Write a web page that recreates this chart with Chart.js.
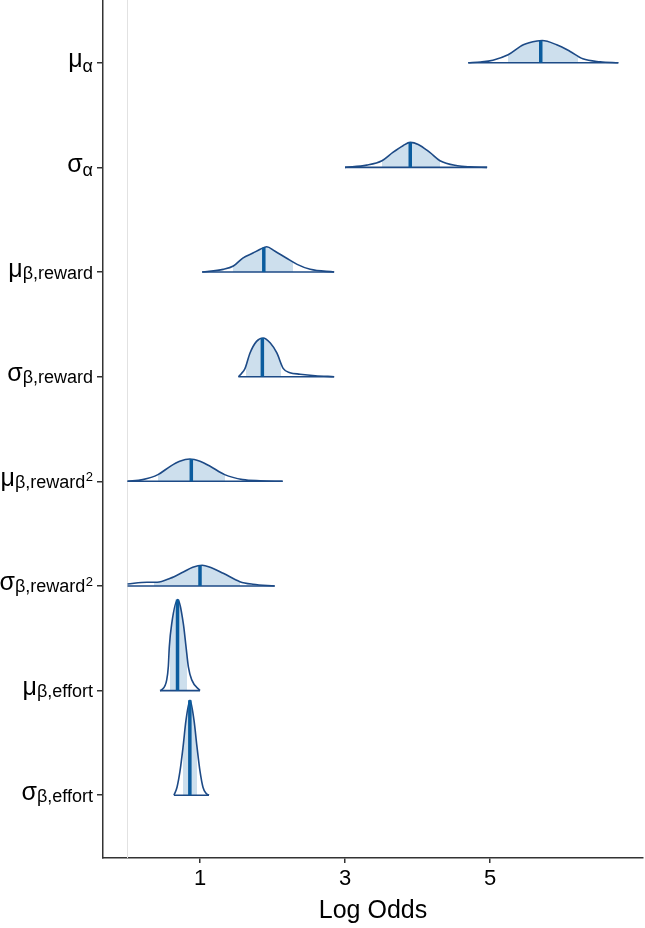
<!DOCTYPE html>
<html><head><meta charset="utf-8">
<script src="https://cdn.jsdelivr.net/npm/chart.js"></script>
<style>html,body{margin:0;padding:0;background:#fff}#wrap{width:645px;height:928px}</style>
</head><body><div id="wrap"><canvas id="c" width="645" height="928"></canvas></div>
<script>
// ---------- data ----------
const labelMain = ['μ','σ','μ','σ','μ','σ','μ','σ'];
const labelSub  = ['α','α','β,reward','β,reward','β,reward','β,reward','β,effort','β,effort'];
const labelSup  = ['','','','','2','2','',''];
const xTicks = [1, 3, 5];
const xTitle = 'Log Odds';

// density curves (x grid and density values)
const xs_muAlpha  = [4.70,4.87,5.04,5.25,5.46,5.65,5.72,5.92,6.10,6.28,6.52,6.77];
const d_muAlpha   = [0,0.08,0.26,0.80,1.80,2.18,2.22,1.80,1.16,0.40,0.10,0];
const xs_sdAlpha  = [3.00,3.30,3.51,3.66,3.80,3.90,4.01,4.17,4.31,4.55,4.72,4.96];
const d_sdAlpha   = [0,0.23,0.67,1.50,2.17,2.50,2.30,1.50,0.67,0.17,0.05,0];
const xs_muRew    = [1.03,1.32,1.46,1.59,1.73,1.83,1.92,2.03,2.19,2.34,2.52,2.85];
const d_muRew     = [0,0.27,0.60,1.40,1.90,2.27,2.53,2.10,1.40,0.77,0.27,0];
const xs_sdRew    = [1.53,1.57,1.62,1.69,1.78,1.87,1.97,2.06,2.15,2.24,2.38,2.59,2.85];
const d_sdRew     = [0,0.30,0.80,2.37,3.53,3.87,3.37,2.37,0.80,0.40,0.25,0.10,0];
const xs_muRew2   = [0,0.21,0.42,0.59,0.72,0.86,1.00,1.14,1.34,1.59,1.83,2.14];
const d_muRew2    = [0,0.17,0.67,1.50,2.00,2.23,2.00,1.50,0.67,0.17,0.05,0];
const xs_sdRew2   = [0,0.27,0.41,0.59,0.77,0.90,1.03,1.14,1.32,1.55,1.73,2.03];
const d_sdRew2    = [0.20,0.37,0.37,0.77,1.40,1.87,2.07,1.87,1.27,0.43,0.17,0];
const xs_muEff    = [0.448,0.472,0.541,0.563,0.577,0.610,0.692,0.770,0.807,0.839,0.886,1.00];
const d_muEff     = [0,0.07,1.07,2.40,4.40,6.70,9.10,6.70,4.40,2.40,1.07,0];
const xs_sdEff    = [0.641,0.683,0.724,0.766,0.807,0.862,0.917,0.959,1.000,1.041,1.083,1.124];
const d_sdEff     = [0,0.80,2.40,4.80,7.50,9.50,7.50,4.80,2.40,0.80,0.20,0];

const medians       = [5.70, 3.90, 1.88, 1.86, 0.88, 1.00, 0.69, 0.86];
const medianDensity = [2.20, 2.50, 2.45, 3.87, 2.23, 2.05, 9.10, 9.50];
const intervalLow   = [5.25, 3.51, 1.46, 1.64, 0.42, 0.36, 0.586, 0.77];
const intervalHigh  = [6.21, 4.31, 2.28, 2.12, 1.34, 1.55, 0.825, 0.96];

const gridList = [xs_muAlpha, xs_sdAlpha, xs_muRew, xs_sdRew, xs_muRew2, xs_sdRew2, xs_muEff, xs_sdEff];
const densList = [d_muAlpha, d_sdAlpha, d_muRew, d_sdRew, d_muRew2, d_sdRew2, d_muEff, d_sdEff];

// ---------- style ----------
const RIDGE_SCALE = 10 / 104.6;   // rows per density unit
const OUTLINE = '#1d4a86';
const MEDIAN = '#0b5c9e';
const FILL = '#cddfed';
const CLEAR = 'rgba(255,255,255,0)';
const FONT = '"Liberation Sans", Arial, Helvetica, sans-serif';
const PLOT_LEFT = 103, PLOT_RIGHT = 643, ZERO_PX = 127.5, PX_PER_UNIT = 72.5;
const X_MIN = (PLOT_LEFT - ZERO_PX) / PX_PER_UNIT;
const X_MAX = (PLOT_RIGHT - ZERO_PX) / PX_PER_UNIT;

Chart.defaults.font.family = FONT;

function intervalFill(i) {
  return (ctx) => {
    const chart = ctx.chart, area = chart.chartArea, sx = chart.scales.x;
    if (!area || !sx) return FILL;
    const w = area.right - area.left;
    const clamp = v => Math.min(Math.max(v, 0), 1);
    const a = clamp((sx.getPixelForValue(intervalLow[i]) - area.left) / w);
    const b = clamp((sx.getPixelForValue(intervalHigh[i]) - area.left) / w);
    const g = chart.ctx.createLinearGradient(area.left, 0, area.right, 0);
    g.addColorStop(0, CLEAR); g.addColorStop(a, CLEAR);
    g.addColorStop(a, FILL); g.addColorStop(b, FILL);
    g.addColorStop(b, CLEAR); g.addColorStop(1, CLEAR);
    return g;
  };
}

const datasets = [];
datasets.push({
  data: [{x: 0, y: -0.6}, {x: 0, y: 7.6}],
  borderColor: '#e2e2e2', borderWidth: 1, pointRadius: 0, fill: false, order: 5
});
gridList.forEach((gx, i) => {
  const d = densList[i];
  datasets.push({
    data: gx.map((x, k) => ({x: x, y: i - d[k] * RIDGE_SCALE})),
    borderColor: OUTLINE, borderWidth: 1.6, pointRadius: 0,
    cubicInterpolationMode: 'monotone',
    fill: {value: i}, backgroundColor: intervalFill(i), order: 3
  });
  datasets.push({
    data: [{x: gx[0], y: i}, {x: gx[gx.length - 1], y: i}],
    borderColor: OUTLINE, borderWidth: 1.6, pointRadius: 0, fill: false, order: 2
  });
  datasets.push({
    data: [{x: medians[i], y: i}, {x: medians[i], y: i - medianDensity[i] * RIDGE_SCALE}],
    borderColor: MEDIAN, borderWidth: 3.5, borderCapStyle: 'butt', pointRadius: 0, fill: false, order: 1
  });
});

const yLabelPlugin = {
  id: 'yLabels',
  afterDraw(chart) {
    const ctx = chart.ctx, sy = chart.scales.y;
    ctx.save();
    ctx.fillStyle = '#000';
    ctx.textAlign = 'left';
    ctx.textBaseline = 'alphabetic';
    const right = 93;
    labelMain.forEach((m, i) => {
      const y = sy.getPixelForValue(i);
      const isAlpha = labelSub[i] === 'α';
      ctx.font = '25px ' + FONT; const wm = ctx.measureText(m).width;
      ctx.font = '18px ' + FONT; const ws = ctx.measureText(labelSub[i]).width;
      ctx.font = '13px ' + FONT; const wp = labelSup[i] ? ctx.measureText(labelSup[i]).width + 0.5 : 0;
      let x = right - (wm + ws + wp);
      const subBase = y + (isAlpha ? 9 : 6.5);
      ctx.font = '25px ' + FONT; ctx.fillText(m, x, y + 4.5);
      ctx.font = '18px ' + FONT; ctx.fillText(labelSub[i], x + wm, subBase);
      if (labelSup[i]) { ctx.font = '13px ' + FONT; ctx.fillText(labelSup[i], x + wm + ws + 0.5, subBase - 6.5); }
    });
    ctx.restore();
  }
};

new Chart(document.getElementById('c'), {
  type: 'line',
  data: {datasets},
  options: {
    responsive: false, animation: false,
    layout: {padding: {left: 0, right: 645 - PLOT_RIGHT, top: 0, bottom: 0}},
    plugins: {legend: {display: false}, tooltip: {enabled: false}},
    scales: {
      x: {
        type: 'linear', min: X_MIN, max: X_MAX,
        afterBuildTicks: (s) => { s.ticks = xTicks.map(v => ({value: v})); },
        afterFit: (s) => { s.height = 70; s.paddingLeft = 0; s.paddingRight = 0; },
        grid: {drawOnChartArea: false, drawTicks: true, tickLength: 5, color: '#333', lineWidth: 1.5},
        border: {display: true, color: '#333', width: 1.5},
        ticks: {color: '#000', font: {size: 22}, padding: 3, maxRotation: 0, autoSkip: false},
        title: {display: true, text: xTitle, color: '#000', font: {size: 25}, padding: {top: 0, bottom: 2}}
      },
      y: {
        type: 'linear', reverse: true, min: -0.6, max: 7.6,
        afterBuildTicks: (s) => { s.ticks = labelMain.map((_, i) => ({value: i})); },
        afterFit: (s) => { s.width = PLOT_LEFT; s.paddingTop = 0; s.paddingBottom = 0; },
        grid: {drawOnChartArea: false, drawTicks: true, tickLength: 6, color: '#333', lineWidth: 1.5},
        border: {display: true, color: '#333', width: 1.5},
        ticks: {callback: () => '', padding: 0, font: {size: 1}}
      }
    }
  },
  plugins: [yLabelPlugin]
});
</script>
</body></html>
